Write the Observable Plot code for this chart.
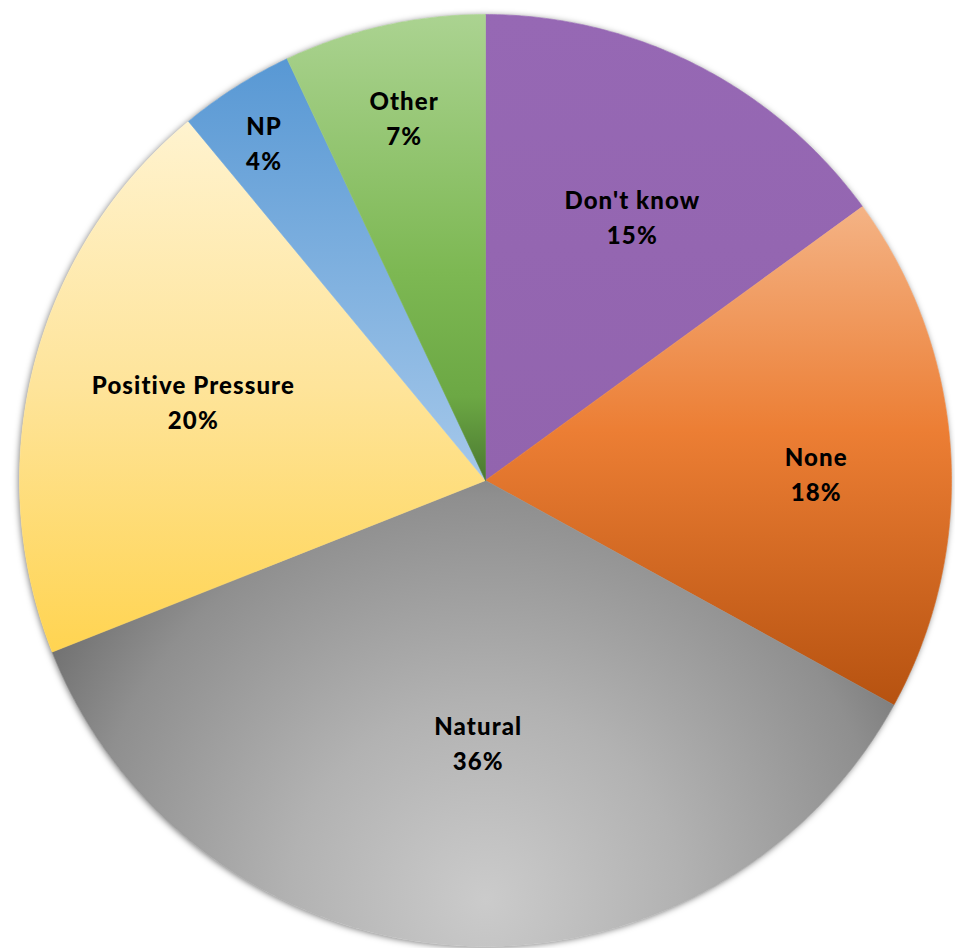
<!DOCTYPE html>
<html>
<head>
<meta charset="utf-8">
<script src="https://cdn.jsdelivr.net/npm/d3@7"></script>
<script src="https://cdn.jsdelivr.net/npm/@observablehq/plot@0.6"></script>
<style>
  html, body { margin: 0; padding: 0; background: #ffffff; }
  #chart svg { display: block; }
  #chart svg g[aria-label="text"] { letter-spacing: 1.1px; }
</style>
</head>
<body>
<div id="chart"></div>
<script>
// Survey answers, clockwise from 12 o'clock
const categories = ["Don't know", "None", "Natural", "Positive Pressure", "NP", "Other"];
const shares = [15, 18, 36, 20, 4, 7];

// Label placement: distance along each slice's bisector (fraction of radius)
// and a small angular nudge off the bisector (degrees)
const labelRadius = [0.65, 0.71, 0.56, 0.65, 0.87, 0.80];
const labelNudge = [2, 2.2, -2, 0.9, -0.7, 0];

// Slice fills (vertical linear gradients; Natural uses a radial shade)
const sliceStops = [
  [[0, "#9668b4"], [1, "#9264ae"]],
  [[0, "#f4b385"], [0.45, "#ec7e34"], [1, "#b65210"]],
  null,
  [[0, "#fff3cf"], [0.5, "#fee49a"], [1, "#ffd451"]],
  [[0, "#5898d4"], [1, "#a5c8ea"]],
  [[0, "#abd391"], [0.55, "#7db853"], [0.82, "#6ca844"], [1, "#4a7830"]]
];
const naturalStops = [[0, "#cbcbcb"], [0.35, "#b2b2b2"], [0.72, "#8f8f8f"], [0.88, "#747474"], [1, "#666666"]];

const slices = categories.map((name, i) => ({name, value: shares[i], i}));
const arcs = d3.pie().value(d => d.value).sort(null)(slices);

// Polygon outline of each wedge in unit-circle coordinates (y up)
const step = Math.PI / 360;
function wedge(a0, a1, withCenter) {
  const pts = withCenter ? [{x: 0, y: 0}] : [];
  const n = Math.max(2, Math.ceil((a1 - a0) / step));
  for (let k = 0; k <= n; ++k) {
    const t = a0 + (a1 - a0) * k / n;
    pts.push({x: Math.sin(t), y: Math.cos(t)});
  }
  if (withCenter) pts.push({x: 0, y: 0});
  return pts;
}
const wedges = arcs.map(a => wedge(a.startAngle, a.endAngle, true));
const disc = wedge(0, 2 * Math.PI, false);

const labels = arcs.map((a, i) => {
  const mid = (a.startAngle + a.endAngle) / 2 + labelNudge[i] * Math.PI / 180;
  return {
    x: Math.sin(mid) * labelRadius[i],
    y: Math.cos(mid) * labelRadius[i],
    text: `${a.data.name}\n${a.data.value}%`
  };
});

// Gradient definitions referenced by the wedge fills
function gradients(index, scales) {
  const defs = d3.create("svg:defs");
  sliceStops.forEach((stops, i) => {
    if (!stops) return;
    const g = defs.append("linearGradient")
      .attr("id", `slice-fill-${i}`)
      .attr("x1", 0).attr("y1", 0).attr("x2", 0).attr("y2", 1);
    stops.forEach(([o, c]) => g.append("stop").attr("offset", o).attr("stop-color", c));
  });
  const rg = defs.append("radialGradient").attr("id", "slice-fill-2");
  if (scales && scales.x && scales.y) {
    rg.attr("gradientUnits", "userSpaceOnUse")
      .attr("cx", scales.x(0)).attr("cy", scales.y(-0.9))
      .attr("r", scales.x(1.2) - scales.x(0));
  } else {
    rg.attr("cx", 0.5).attr("cy", 0.9).attr("r", 0.7);
  }
  naturalStops.forEach(([o, c]) => rg.append("stop").attr("offset", o).attr("stop-color", c));
  return defs.node();
}

const chart = Plot.plot({
  width: 955,
  height: 948,
  marginLeft: 19,
  marginRight: 4,
  marginTop: 14,
  marginBottom: 2,
  x: {domain: [-1, 1], axis: null},
  y: {domain: [-1, 1], axis: null},
  style: {background: "#ffffff"},
  marks: [
    Plot.line(disc, {x: "x", y: "y", fill: "#ffffff", stroke: "none"}),
    ...wedges.map((pts, i) => Plot.line(pts, {
      x: "x", y: "y",
      fill: `url(#slice-fill-${i})`,
      stroke: `url(#slice-fill-${i})`,
      strokeWidth: 0.6
    })),
    Plot.text(labels, {
      x: "x", y: "y", text: "text",
      fontFamily: "Lato, 'Open Sans', sans-serif",
      fontSize: 24,
      fontWeight: 900,
      lineHeight: 1.46,
      fill: "#000000",
      textAnchor: "middle"
    }),
    gradients
  ]
});

// Soft shadow around the outer rim of the pie
d3.select(chart).select('g[aria-label="line"]')
  .style("filter", "drop-shadow(-1px 1px 3px rgba(0,0,0,0.5))");

document.getElementById("chart").append(chart);
</script>
</body>
</html>
